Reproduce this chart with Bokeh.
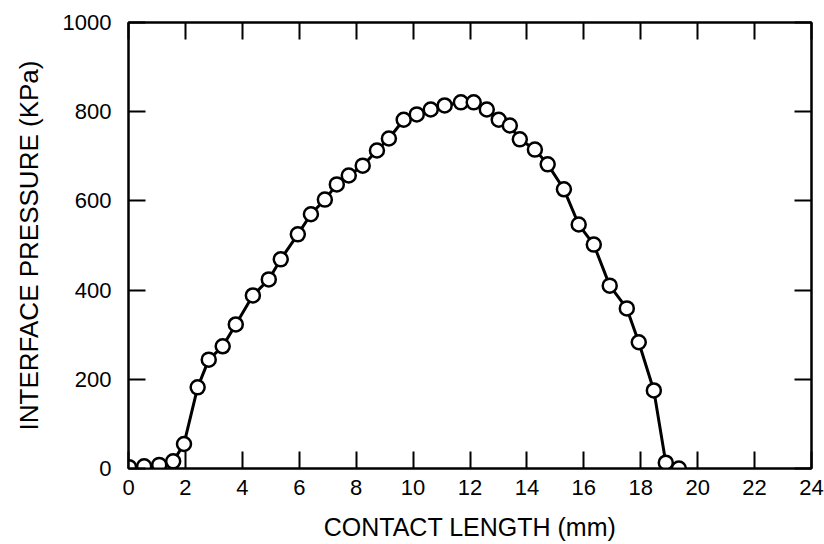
from bokeh.plotting import figure
from bokeh.models import Range1d, LinearAxis, FixedTicker, ColumnDataSource, CustomLabelingPolicy
from bokeh.embed import file_html
from bokeh.resources import INLINE

contact_length = [0.02, 0.55, 1.08, 1.57, 1.95, 2.43, 2.82, 3.31, 3.77, 4.37, 4.93,
                  5.35, 5.95, 6.41, 6.90, 7.32, 7.74, 8.23, 8.73, 9.15, 9.67, 10.13,
                  10.62, 11.11, 11.68, 12.13, 12.59, 13.01, 13.40, 13.75, 14.28, 14.73,
                  15.30, 15.82, 16.35, 16.91, 17.51, 17.93, 18.46, 18.88, 19.34]
pressure = [3, 5, 8, 16, 55, 182, 244, 274, 323, 388, 424, 469, 525, 570, 603, 637,
            657, 679, 713, 740, 782, 794, 805, 814, 821, 821, 805, 782, 769, 738, 715,
            682, 626, 547, 502, 410, 359, 283, 175, 13, 0]

x_ticks = [0, 2, 4, 6, 8, 10, 12, 14, 16, 18, 20, 22, 24]
y_ticks = [0, 200, 400, 600, 800, 1000]

src = ColumnDataSource(dict(x=contact_length, y=pressure))

FONT = "Liberation Sans"

p = figure(output_backend="svg", toolbar_location=None,
           x_range=Range1d(0, 24), y_range=Range1d(0, 1000),
           frame_width=683, frame_height=446,
           min_border_left=128, min_border_top=22, min_border_right=5, min_border_bottom=74,
           x_axis_label="CONTACT LENGTH (mm)", y_axis_label="INTERFACE PRESSURE (KPa)")

p.background_fill_color = "white"
p.border_fill_color = "white"
p.outline_line_color = "black"
p.outline_line_width = 2
p.xgrid.visible = False
p.ygrid.visible = False

def style_axis(ax, ticks, labels=True):
    ax.ticker = FixedTicker(ticks=ticks)
    ax.axis_line_color = "black"
    ax.axis_line_width = 2
    ax.major_tick_in = 17
    ax.major_tick_out = 0
    ax.major_tick_line_width = 2
    ax.major_tick_line_color = "black"
    ax.minor_tick_line_color = None
    if labels:
        ax.major_label_text_font = FONT
        ax.major_label_text_font_size = "22px"
        ax.major_label_text_color = "black"
        ax.axis_label_text_font = FONT
        ax.axis_label_text_font_style = "normal"
        ax.axis_label_text_color = "black"
    else:
        ax.major_label_policy = CustomLabelingPolicy(code="return new Set()")
        ax.major_label_standoff = 0

style_axis(p.xaxis[0], x_ticks)
style_axis(p.yaxis[0], y_ticks)
p.xaxis[0].major_label_standoff = 11
p.xaxis[0].axis_label_standoff = 15
p.xaxis[0].axis_label_text_font_size = "25px"
p.yaxis[0].major_label_standoff = 17
p.yaxis[0].axis_label_standoff = 16
p.yaxis[0].axis_label_text_font_size = "26px"

top = LinearAxis()
style_axis(top, x_ticks, labels=False)
p.add_layout(top, "above")
right = LinearAxis()
style_axis(right, y_ticks, labels=False)
p.add_layout(right, "right")

p.line("x", "y", source=src, line_color="black", line_width=3)
p.scatter("x", "y", source=src, size=14, marker="circle",
          fill_color="white", line_color="black", line_width=2.5)

open("out.html", "w").write(file_html(p, INLINE))
